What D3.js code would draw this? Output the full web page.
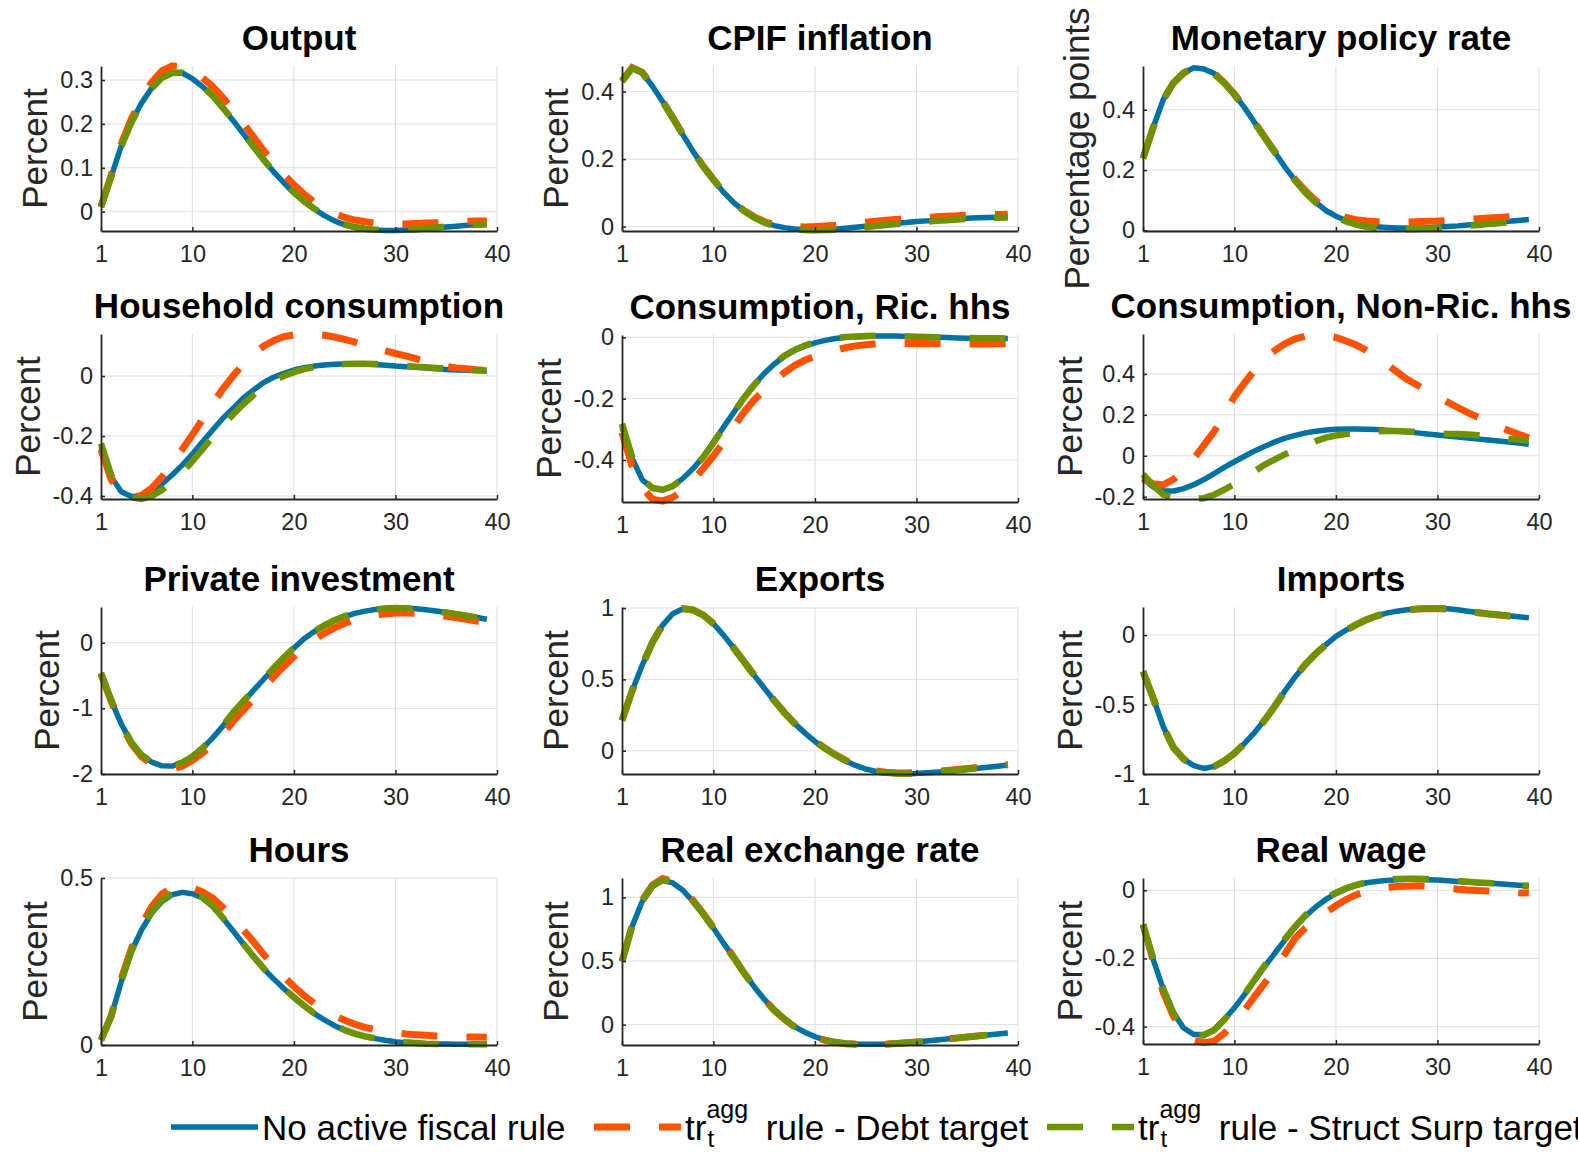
<!DOCTYPE html>
<html><head><meta charset="utf-8">
<script src="https://cdn.jsdelivr.net/npm/d3@7"></script>
<style>
body{margin:0;background:#fff}
svg{display:block}
text{font-family:"Liberation Sans",Arial,Helvetica,sans-serif}
</style>
</head><body>
<svg id="chart" width="1578" height="1153"></svg>
<script>
// ---------------- DATA ----------------
const periods = [1,2,3,4,5,6,7,8,9,10,11,12,13,14,15,16,17,18,19,20,21,22,23,24,25,26,27,28,29,30,31,32,33,34,35,36,37,38,39];
const xTickValues = [1,10,20,30,40];
const legendLabels = ["No active fiscal rule", " rule - Debt target", " rule - Struct Surp target"];
const panelTitles = ["Output","CPIF inflation","Monetary policy rate","Household consumption","Consumption, Ric. hhs","Consumption, Non-Ric. hhs","Private investment","Exports","Imports","Hours","Real exchange rate","Real wage"];
const yAxisLabels = ["Percent","Percent","Percentage points","Percent","Percent","Percent","Percent","Percent","Percent","Percent","Percent","Percent"];
const yLimits = [[-0.044,0.332],[-0.013,0.476],[-0.002,0.545],[-0.41,0.14],[-0.537,0.0075],[-0.211,0.595],[-2.0,0.545],[-0.163,1.007],[-1.0,0.202],[0,0.5],[-0.16,1.152],[-0.451,0.036]];
const yTickValues = [[0,0.1,0.2,0.3],[0,0.2,0.4],[0,0.2,0.4],[-0.4,-0.2,0],[-0.4,-0.2,0],[-0.2,0,0.2,0.4],[-2,-1,0],[0,0.5,1],[-1,-0.5,0],[0,0.5],[0,0.5,1],[-0.4,-0.2,0]];

// Output
const outputNoRule = [0.011,0.080,0.150,0.205,0.248,0.282,0.305,0.316,0.316,0.303,0.285,0.263,0.236,0.208,0.178,0.148,0.118,0.091,0.066,0.043,0.023,0.006,-0.009,-0.021,-0.030,-0.036,-0.040,-0.042,-0.043,-0.043,-0.042,-0.041,-0.039,-0.037,-0.035,-0.033,-0.031,-0.030,-0.028];
const outputDebt   = [0.012,0.083,0.155,0.212,0.258,0.295,0.321,0.332,0.331,0.321,0.305,0.285,0.260,0.232,0.202,0.171,0.140,0.111,0.085,0.061,0.040,0.022,0.008,-0.004,-0.013,-0.019,-0.023,-0.026,-0.027,-0.028,-0.028,-0.027,-0.026,-0.025,-0.024,-0.023,-0.022,-0.021,-0.021];
const outputSurp   = [0.010,0.079,0.149,0.204,0.247,0.281,0.305,0.316,0.317,0.304,0.286,0.264,0.237,0.209,0.179,0.149,0.119,0.092,0.067,0.044,0.024,0.007,-0.008,-0.020,-0.029,-0.035,-0.039,-0.041,-0.042,-0.042,-0.041,-0.040,-0.038,-0.036,-0.034,-0.032,-0.031,-0.030,-0.029];
// CPIF inflation
const cpifNoRule = [0.431,0.470,0.456,0.416,0.371,0.322,0.272,0.223,0.178,0.139,0.102,0.071,0.047,0.028,0.013,0.003,-0.003,-0.007,-0.009,-0.010,-0.009,-0.008,-0.005,-0.002,0.001,0.004,0.007,0.010,0.012,0.015,0.017,0.019,0.021,0.023,0.025,0.026,0.027,0.028,0.029];
const cpifDebt   = [0.432,0.471,0.457,0.417,0.372,0.323,0.273,0.224,0.179,0.140,0.103,0.072,0.048,0.029,0.015,0.006,0.002,0.000,-0.001,0.000,0.002,0.004,0.007,0.010,0.013,0.016,0.019,0.021,0.023,0.025,0.027,0.029,0.031,0.032,0.034,0.035,0.036,0.036,0.037];
const cpifSurp   = [0.430,0.470,0.456,0.416,0.371,0.322,0.272,0.223,0.178,0.139,0.102,0.071,0.047,0.027,0.012,0.002,-0.004,-0.008,-0.010,-0.011,-0.010,-0.009,-0.007,-0.004,-0.001,0.002,0.005,0.008,0.010,0.013,0.015,0.017,0.019,0.021,0.023,0.024,0.025,0.026,0.027];
// Monetary policy rate
const mprNoRule = [0.239,0.341,0.434,0.489,0.522,0.539,0.535,0.520,0.489,0.451,0.407,0.357,0.308,0.258,0.209,0.165,0.127,0.094,0.066,0.047,0.033,0.023,0.016,0.012,0.010,0.008,0.008,0.008,0.009,0.011,0.013,0.015,0.018,0.020,0.023,0.026,0.030,0.033,0.036];
const mprDebt   = [0.239,0.341,0.434,0.489,0.522,0.539,0.536,0.521,0.490,0.452,0.408,0.358,0.309,0.260,0.211,0.168,0.131,0.099,0.073,0.055,0.043,0.035,0.031,0.029,0.028,0.028,0.028,0.029,0.030,0.031,0.033,0.035,0.037,0.039,0.041,0.043,0.045,0.047,0.049];
const mprSurp   = [0.238,0.340,0.433,0.489,0.522,0.539,0.535,0.519,0.488,0.450,0.406,0.356,0.307,0.257,0.208,0.164,0.125,0.092,0.064,0.044,0.030,0.019,0.012,0.008,0.006,0.004,0.004,0.005,0.006,0.008,0.010,0.013,0.015,0.018,0.021,0.024,0.027,0.030,0.033];
// Household consumption
const hhcNoRule = [-0.236,-0.336,-0.386,-0.402,-0.400,-0.386,-0.360,-0.330,-0.297,-0.260,-0.219,-0.180,-0.141,-0.108,-0.074,-0.047,-0.022,-0.004,0.009,0.020,0.028,0.033,0.037,0.039,0.040,0.040,0.039,0.038,0.036,0.033,0.031,0.029,0.027,0.024,0.022,0.020,0.019,0.018,0.017];
const hhcDebt   = [-0.245,-0.345,-0.390,-0.405,-0.398,-0.374,-0.337,-0.292,-0.244,-0.196,-0.145,-0.093,-0.043,0.000,0.040,0.073,0.099,0.118,0.131,0.137,0.140,0.139,0.136,0.130,0.122,0.113,0.103,0.093,0.084,0.075,0.067,0.058,0.048,0.039,0.032,0.027,0.024,0.021,0.019];
const hhcSurp   = [-0.225,-0.330,-0.385,-0.405,-0.410,-0.400,-0.380,-0.354,-0.322,-0.284,-0.244,-0.203,-0.164,-0.128,-0.094,-0.064,-0.038,-0.016,0.000,0.013,0.023,0.030,0.035,0.038,0.040,0.041,0.041,0.040,0.038,0.036,0.034,0.031,0.029,0.027,0.025,0.023,0.021,0.019,0.018];
// Consumption, Ricardian households
const ricNoRule = [-0.291,-0.395,-0.465,-0.492,-0.498,-0.485,-0.460,-0.428,-0.390,-0.342,-0.293,-0.245,-0.197,-0.155,-0.118,-0.087,-0.062,-0.043,-0.029,-0.018,-0.010,-0.004,0.000,0.002,0.003,0.004,0.004,0.004,0.003,0.002,0.001,0.000,-0.001,-0.002,-0.003,-0.003,-0.003,-0.004,-0.004];
const ricDebt   = [-0.310,-0.420,-0.490,-0.528,-0.534,-0.522,-0.499,-0.466,-0.428,-0.387,-0.342,-0.292,-0.245,-0.205,-0.172,-0.142,-0.115,-0.092,-0.075,-0.062,-0.051,-0.042,-0.034,-0.028,-0.024,-0.021,-0.020,-0.020,-0.020,-0.020,-0.020,-0.021,-0.021,-0.022,-0.022,-0.022,-0.022,-0.021,-0.021];
const ricSurp   = [-0.282,-0.390,-0.462,-0.491,-0.497,-0.485,-0.461,-0.429,-0.391,-0.344,-0.295,-0.246,-0.198,-0.156,-0.118,-0.086,-0.060,-0.041,-0.027,-0.016,-0.008,-0.003,0.001,0.003,0.004,0.005,0.005,0.004,0.003,0.002,0.001,0.000,-0.001,-0.002,-0.002,-0.003,-0.003,-0.003,-0.004];
// Consumption, Non-Ricardian households
const nricNoRule = [-0.111,-0.152,-0.172,-0.172,-0.160,-0.141,-0.116,-0.087,-0.057,-0.029,-0.002,0.024,0.047,0.068,0.086,0.100,0.112,0.120,0.126,0.130,0.131,0.131,0.130,0.128,0.125,0.121,0.117,0.112,0.107,0.102,0.097,0.092,0.087,0.082,0.077,0.072,0.067,0.062,0.056];
const nricDebt   = [-0.115,-0.136,-0.142,-0.115,-0.068,-0.013,0.052,0.118,0.200,0.289,0.356,0.420,0.472,0.515,0.548,0.571,0.585,0.590,0.587,0.578,0.561,0.541,0.515,0.483,0.448,0.410,0.374,0.346,0.317,0.289,0.262,0.236,0.211,0.188,0.166,0.144,0.124,0.105,0.088];
const nricSurp   = [-0.090,-0.145,-0.190,-0.205,-0.210,-0.211,-0.207,-0.190,-0.165,-0.139,-0.110,-0.075,-0.043,-0.017,0.008,0.028,0.052,0.072,0.089,0.099,0.106,0.112,0.116,0.119,0.121,0.121,0.119,0.115,0.111,0.109,0.107,0.106,0.104,0.100,0.094,0.088,0.083,0.078,0.073];
// Private investment
const invNoRule = [-0.47,-0.88,-1.24,-1.52,-1.71,-1.82,-1.875,-1.88,-1.83,-1.74,-1.61,-1.45,-1.27,-1.07,-0.90,-0.73,-0.56,-0.39,-0.23,-0.08,0.06,0.17,0.26,0.34,0.40,0.448,0.482,0.507,0.522,0.528,0.526,0.517,0.502,0.483,0.462,0.438,0.413,0.386,0.358];
const invDebt   = [-0.48,-0.89,-1.25,-1.54,-1.735,-1.85,-1.91,-1.92,-1.88,-1.79,-1.68,-1.54,-1.39,-1.20,-1.03,-0.86,-0.69,-0.52,-0.36,-0.21,-0.06,0.05,0.145,0.228,0.298,0.352,0.392,0.420,0.440,0.452,0.455,0.450,0.438,0.422,0.403,0.381,0.357,0.331,0.303];
const invSurp   = [-0.46,-0.87,-1.23,-1.52,-1.71,-1.82,-1.87,-1.875,-1.825,-1.735,-1.605,-1.445,-1.265,-1.065,-0.895,-0.725,-0.555,-0.385,-0.225,-0.075,0.065,0.175,0.265,0.345,0.405,0.452,0.486,0.510,0.524,0.529,0.526,0.516,0.500,0.481,0.460,0.436,0.411,0.384,0.356];
// Exports
const expNoRule = [0.212,0.420,0.600,0.760,0.880,0.960,0.995,0.985,0.950,0.890,0.810,0.720,0.625,0.530,0.440,0.350,0.265,0.190,0.125,0.065,0.015,-0.030,-0.070,-0.103,-0.128,-0.145,-0.155,-0.160,-0.161,-0.159,-0.155,-0.150,-0.144,-0.137,-0.130,-0.123,-0.115,-0.108,-0.100];
const expDebt   = [0.212,0.420,0.600,0.760,0.880,0.960,0.995,0.986,0.951,0.891,0.811,0.721,0.626,0.531,0.441,0.351,0.267,0.192,0.127,0.068,0.018,-0.027,-0.066,-0.099,-0.124,-0.141,-0.150,-0.155,-0.156,-0.154,-0.150,-0.145,-0.139,-0.132,-0.125,-0.118,-0.111,-0.104,-0.096];
const expSurp   = [0.212,0.420,0.600,0.760,0.880,0.960,0.995,0.985,0.950,0.890,0.810,0.720,0.625,0.530,0.440,0.350,0.265,0.190,0.125,0.065,0.015,-0.030,-0.070,-0.103,-0.128,-0.145,-0.155,-0.160,-0.161,-0.159,-0.155,-0.150,-0.144,-0.137,-0.130,-0.123,-0.115,-0.108,-0.100];
// Imports
const impNoRule = [-0.262,-0.452,-0.660,-0.810,-0.893,-0.940,-0.960,-0.945,-0.905,-0.850,-0.780,-0.700,-0.610,-0.510,-0.400,-0.300,-0.210,-0.135,-0.070,-0.010,0.035,0.075,0.110,0.138,0.158,0.172,0.182,0.188,0.192,0.193,0.189,0.182,0.172,0.162,0.153,0.146,0.139,0.132,0.125];
const impDebt   = [-0.262,-0.452,-0.660,-0.810,-0.893,-0.940,-0.960,-0.946,-0.907,-0.852,-0.782,-0.702,-0.611,-0.510,-0.400,-0.300,-0.210,-0.135,-0.070,-0.010,0.035,0.075,0.110,0.137,0.157,0.171,0.181,0.187,0.190,0.191,0.187,0.180,0.170,0.160,0.151,0.144,0.137,0.130,0.123];
const impSurp   = [-0.262,-0.452,-0.660,-0.810,-0.893,-0.940,-0.960,-0.945,-0.905,-0.850,-0.780,-0.700,-0.610,-0.510,-0.400,-0.300,-0.210,-0.135,-0.070,-0.010,0.035,0.075,0.110,0.138,0.158,0.172,0.182,0.188,0.192,0.193,0.189,0.182,0.172,0.162,0.153,0.146,0.139,0.132,0.125];
// Hours
const hoursNoRule = [0.015,0.085,0.190,0.280,0.345,0.395,0.430,0.450,0.457,0.453,0.440,0.415,0.380,0.342,0.303,0.265,0.229,0.198,0.169,0.142,0.117,0.094,0.075,0.058,0.044,0.033,0.025,0.019,0.014,0.010,0.007,0.005,0.004,0.003,0.003,0.002,0.002,0.002,0.002];
const hoursDebt   = [0.015,0.087,0.198,0.290,0.360,0.415,0.452,0.472,0.476,0.470,0.458,0.440,0.412,0.380,0.345,0.310,0.272,0.237,0.205,0.175,0.148,0.125,0.105,0.088,0.074,0.062,0.053,0.046,0.040,0.036,0.033,0.031,0.029,0.027,0.026,0.025,0.024,0.024,0.023];
const hoursSurp   = [0.014,0.085,0.191,0.282,0.348,0.399,0.435,0.455,0.461,0.456,0.442,0.417,0.381,0.343,0.304,0.266,0.230,0.199,0.170,0.143,0.118,0.095,0.076,0.059,0.045,0.034,0.026,0.020,0.015,0.011,0.008,0.006,0.004,0.003,0.003,0.002,0.002,0.002,0.002];
// Real exchange rate
const rerNoRule = [0.496,0.772,0.969,1.087,1.134,1.113,1.055,0.969,0.869,0.759,0.640,0.528,0.409,0.300,0.200,0.115,0.045,-0.016,-0.060,-0.094,-0.121,-0.136,-0.147,-0.152,-0.155,-0.155,-0.152,-0.147,-0.142,-0.136,-0.129,-0.121,-0.113,-0.105,-0.097,-0.089,-0.081,-0.073,-0.066];
const rerDebt   = [0.498,0.778,0.978,1.096,1.148,1.126,1.064,0.976,0.874,0.762,0.642,0.529,0.409,0.299,0.198,0.112,0.042,-0.019,-0.063,-0.097,-0.124,-0.139,-0.150,-0.155,-0.157,-0.157,-0.154,-0.149,-0.143,-0.137,-0.130,-0.122,-0.114,-0.105,-0.097,-0.089,-0.081,-0.073,-0.066];
const rerSurp   = [0.496,0.773,0.971,1.089,1.137,1.116,1.057,0.970,0.869,0.758,0.639,0.527,0.408,0.299,0.199,0.114,0.044,-0.017,-0.061,-0.095,-0.122,-0.137,-0.148,-0.153,-0.156,-0.156,-0.153,-0.148,-0.143,-0.137,-0.130,-0.122,-0.114,-0.106,-0.098,-0.090,-0.082,-0.074,-0.067];
// Real wage
const wageNoRule = [-0.106,-0.203,-0.291,-0.360,-0.404,-0.423,-0.423,-0.409,-0.379,-0.345,-0.306,-0.264,-0.223,-0.184,-0.145,-0.108,-0.076,-0.049,-0.027,-0.010,0.004,0.014,0.022,0.026,0.029,0.031,0.032,0.032,0.031,0.030,0.028,0.026,0.024,0.022,0.021,0.019,0.017,0.015,0.013];
const wageDebt   = [-0.100,-0.205,-0.300,-0.370,-0.415,-0.440,-0.447,-0.443,-0.420,-0.390,-0.352,-0.311,-0.272,-0.233,-0.186,-0.140,-0.110,-0.085,-0.066,-0.045,-0.027,-0.013,-0.003,0.004,0.008,0.011,0.012,0.013,0.012,0.009,0.006,0.003,0.001,-0.001,-0.002,-0.003,-0.005,-0.007,-0.008];
const wageSurp   = [-0.100,-0.200,-0.290,-0.360,-0.405,-0.425,-0.425,-0.410,-0.380,-0.345,-0.305,-0.262,-0.220,-0.181,-0.142,-0.105,-0.073,-0.046,-0.024,-0.007,0.006,0.016,0.023,0.028,0.031,0.033,0.034,0.034,0.033,0.031,0.029,0.027,0.025,0.023,0.021,0.019,0.017,0.015,0.013];

const noRuleSeries = [outputNoRule,cpifNoRule,mprNoRule,hhcNoRule,ricNoRule,nricNoRule,invNoRule,expNoRule,impNoRule,hoursNoRule,rerNoRule,wageNoRule];
const debtSeries   = [outputDebt,cpifDebt,mprDebt,hhcDebt,ricDebt,nricDebt,invDebt,expDebt,impDebt,hoursDebt,rerDebt,wageDebt];
const surpSeries   = [outputSurp,cpifSurp,mprSurp,hhcSurp,ricSurp,nricSurp,invSurp,expSurp,impSurp,hoursSurp,rerSurp,wageSurp];

// ---------------- LAYOUT / STYLE ----------------
const colLeft = [101, 622, 1143];
const plotW = 396;
const panelTop    = [66,66,66, 334,335,334, 607,607,607, 878,878,878];
const panelBottom = [231,231,231, 499,502,499, 774,774,774, 1045,1045,1044];
const COLORS = {noRule:"#0071A4", debt:"#FF5200", surp:"#6F9200"};
const WIDTHS = {noRule:5.5, debt:7, surp:6.5};
const AXIS_COLOR = "#262626", GRID_COLOR = "#dfdfdf";
const DASH = "36,29";

const svg = d3.select("#chart");
svg.append("rect").attr("width",1578).attr("height",1153).attr("fill","#fff");

panelTitles.forEach((title, i) => {
  const left = colLeft[i % 3], top = panelTop[i], bottom = panelBottom[i];
  const x = d3.scaleLinear().domain([1, 40]).range([left, left + plotW]);
  const y = d3.scaleLinear().domain(yLimits[i]).range([bottom, top]);
  const g = svg.append("g");

  // grid
  const grid = g.append("g");
  xTickValues.filter(v => v !== 1).forEach(v => {
    grid.append("line").attr("x1", x(v)).attr("x2", x(v)).attr("y1", top).attr("y2", bottom)
      .attr("stroke", GRID_COLOR).attr("stroke-width", 1);
  });
  yTickValues[i].forEach(v => {
    grid.append("line").attr("x1", left).attr("x2", left + plotW).attr("y1", y(v)).attr("y2", y(v))
      .attr("stroke", GRID_COLOR).attr("stroke-width", 1);
  });

  // lines
  const line = d3.line().x((d, k) => x(periods[k])).y(d => y(d));
  g.append("path").attr("d", line(noRuleSeries[i])).attr("fill","none")
    .attr("stroke", COLORS.noRule).attr("stroke-width", WIDTHS.noRule).attr("stroke-linejoin","round");
  g.append("path").attr("d", line(debtSeries[i])).attr("fill","none")
    .attr("stroke", COLORS.debt).attr("stroke-width", WIDTHS.debt).attr("stroke-dasharray", DASH);
  g.append("path").attr("d", line(surpSeries[i])).attr("fill","none")
    .attr("stroke", COLORS.surp).attr("stroke-width", WIDTHS.surp).attr("stroke-dasharray", DASH);

  // axes
  const yAxis = g.append("g").attr("transform", `translate(${left},0)`)
    .call(d3.axisLeft(y).tickValues(yTickValues[i]).tickSize(-4).tickSizeOuter(0).tickPadding(8).tickFormat(d => String(d)));
  const xAxis = g.append("g").attr("transform", `translate(0,${bottom})`)
    .call(d3.axisBottom(x).tickValues(xTickValues).tickSize(-4).tickSizeOuter(0).tickPadding(14.5).tickFormat(d => String(d)));
  [yAxis, xAxis].forEach(a => {
    a.attr("font-family", null).attr("font-size", null);
    a.select(".domain").attr("stroke", AXIS_COLOR).attr("stroke-width", 1.8);
    a.selectAll(".tick line").attr("stroke", AXIS_COLOR).attr("stroke-width", 1.5);
    a.selectAll(".tick text").attr("fill", AXIS_COLOR).style("font-size", "23.5px");
  });

  // title
  g.append("text").attr("x", left + plotW / 2).attr("y", top - 16.5).attr("text-anchor", "middle")
    .style("font-size", "35px").style("font-weight", "bold").attr("fill", "#000").text(title);

  // y label
  let minX = 0;
  yAxis.selectAll(".tick text").each(function() {
    const b = this.getBBox();
    minX = Math.min(minX, b.x);
  });
  const lx = left + minX - 13, ly = (top + bottom) / 2;
  g.append("text").attr("transform", `translate(${lx},${ly}) rotate(-90)`).attr("text-anchor", "middle")
    .style("font-size", "35px").attr("fill", AXIS_COLOR).text(yAxisLabels[i]);
});

// ---------------- LEGEND ----------------
const legend = svg.append("g");
const legY = 1127, legBase = 1140;
const legendItems = [
  {x0: 171, color: COLORS.noRule, width: WIDTHS.noRule, dash: null, label: legendLabels[0], tex: false},
  {x0: 594, color: COLORS.debt, width: WIDTHS.debt, dash: DASH, label: legendLabels[1], tex: true},
  {x0: 1047, color: COLORS.surp, width: WIDTHS.surp, dash: DASH, label: legendLabels[2], tex: true}
];
legendItems.forEach(it => {
  const ln = legend.append("line").attr("x1", it.x0).attr("x2", it.x0 + 87).attr("y1", legY).attr("y2", legY)
    .attr("stroke", it.color).attr("stroke-width", it.width);
  if (it.dash) ln.attr("stroke-dasharray", it.dash);
  let tx = it.x0 + 91;
  if (!it.tex) {
    legend.append("text").attr("x", tx).attr("y", legBase).style("font-size", "35px").attr("fill", "#000").text(it.label);
  } else {
    const t1 = legend.append("text").attr("x", tx).attr("y", legBase).style("font-size", "35px").attr("fill", "#000").text("tr");
    tx += t1.node().getComputedTextLength();
    const sup = legend.append("text").attr("x", tx).attr("y", legBase - 22).style("font-size", "25px").attr("fill", "#000").text("agg");
    legend.append("text").attr("x", tx + 1).attr("y", legBase + 7).style("font-size", "24px").attr("fill", "#000").text("t");
    tx += sup.node().getComputedTextLength() + 8;
    legend.append("text").attr("x", tx).attr("y", legBase).style("font-size", "35px").attr("fill", "#000")
      .attr("xml:space", "preserve").style("white-space", "pre").text(it.label);
  }
});
</script>
</body></html>
